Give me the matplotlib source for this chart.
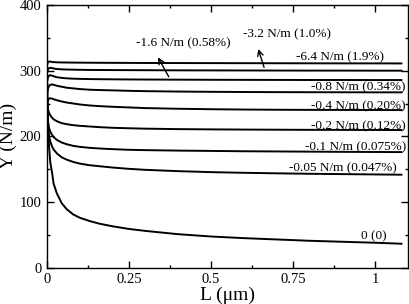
import matplotlib
matplotlib.use("Agg")
import matplotlib.pyplot as plt
from matplotlib.ticker import MultipleLocator, FuncFormatter

plt.rcParams['font.family'] = ['Liberation Serif', 'DejaVu Serif']
plt.rcParams['mathtext.fontset'] = 'stix'

# length values (um), shared by all curves
L = [0.001, 0.003, 0.006, 0.01, 0.015, 0.02, 0.03, 0.045, 0.06, 0.08, 0.1, 0.13,
     0.16, 0.2, 0.25, 0.3, 0.4, 0.5, 0.6, 0.7, 0.8, 0.9, 1.0, 1.08]

# Y (N/m) for each applied stress
y_0 = [280, 225, 185, 160, 146, 128, 113, 98, 89, 81, 76, 71,
       67, 63, 59, 56, 51, 47.5, 45, 43, 41, 39.5, 38, 36.5]
y_005 = [235, 212, 200, 192, 185, 180, 174, 168, 164.5, 161, 158.5, 156,
         154.5, 152.5, 150.5, 149, 147, 145.5, 144.5, 143.7, 143, 142.5, 142, 141.6]
y_01 = [240, 222, 213, 207, 202.5, 199, 194.5, 190.5, 188, 185.5, 184, 182.5,
        181.5, 180.5, 179.5, 179, 178.3, 177.8, 177.3, 177, 176.7, 176.4, 176.2, 176]
y_02 = [248, 241, 236, 232, 228.5, 226, 223, 220, 218.5, 217, 216, 215,
        214, 213, 212.3, 211.7, 211, 210.6, 210.3, 210.1, 209.9, 209.8, 209.7, 209.6]
y_04 = [250, 255, 257.5, 258, 257.5, 256.5, 255, 253, 251.5, 250, 248.5, 247,
        246, 245, 244, 243, 242, 241.3, 240.8, 240.5, 240.3, 240.2, 240.1, 240]
y_08 = [268, 273, 276.5, 278.5, 279, 278.5, 277, 275.5, 274, 273, 272, 271,
        270.5, 270, 269.3, 268.8, 268.2, 267.8, 267.5, 267.3, 267.2, 267.1, 267, 267]
y_16 = [285, 290, 292.5, 293, 292.5, 291.5, 290, 289, 288.3, 287.8, 287.5, 287.2,
        287, 286.8, 286.6, 286.5, 286.3, 286.1, 286, 285.9, 285.8, 285.8, 285.7, 285.7]
y_32 = [298, 302, 304, 304.3, 304, 303.3, 302.5, 302, 301.7, 301.5, 301.3, 301.1,
        301, 300.9, 300.8, 300.7, 300.5, 300.4, 300.3, 300.2, 300.1, 300.1, 300, 300]
y_64 = [310, 313, 314, 313.8, 313.3, 313, 312.7, 312.5, 312.4, 312.3, 312.2, 312.1,
        312, 311.9, 311.8, 311.7, 311.6, 311.5, 311.4, 311.3, 311.2, 311.1, 311.1, 311]

curves = [y_0, y_005, y_01, y_02, y_04, y_08, y_16, y_32, y_64]

# curve labels and where they sit (L, Y)
labels = ['0 (0)', '-0.05 N/m (0.047%)', '-0.1 N/m (0.075%)', '-0.2 N/m (0.12%)',
          '-0.4 N/m (0.20%)', '-0.8 N/m (0.34%)', '-6.4 N/m (1.9%)',
          '-1.6 N/m (0.58%)', '-3.2 N/m (1.0%)']
label_x = [0.956, 0.738, 0.785, 0.805, 0.805, 0.805, 0.758, 0.271, 0.598]
label_y = [47.8, 150.7, 184, 215.7, 246, 274.5, 321, 341.5, 355]

fig = plt.figure(figsize=(4.09, 3.04), dpi=100)
ax = fig.add_axes([0.115, 0.1194, 0.8826, 0.8642])

for yv in curves:
    ax.plot(L, yv, color='black', lw=1.4)

for t, lx, ly in zip(labels, label_x, label_y):
    ax.text(lx, ly, t, fontsize=9.5, ha='left', va='center')

# arrows from the curves up to their labels
ax.annotate('', xy=(0.334, 324), xytext=(0.375, 287),
            arrowprops=dict(arrowstyle='->', color='black', lw=1.0))
ax.annotate('', xy=(0.641, 337), xytext=(0.664, 301),
            arrowprops=dict(arrowstyle='->', color='black', lw=1.0))

ax.set_xlim(0, 1.10)
ax.set_ylim(0, 400)
ax.xaxis.set_major_locator(MultipleLocator(0.25))
ax.xaxis.set_minor_locator(MultipleLocator(0.125))
ax.yaxis.set_major_locator(MultipleLocator(100))
ax.yaxis.set_minor_locator(MultipleLocator(50))
ax.xaxis.set_major_formatter(FuncFormatter(lambda v, p: '%g' % v))
ax.tick_params(which='both', direction='in', top=True, right=True, labelsize=10.5, width=1.0)
ax.tick_params(which='major', length=5, pad=4)
ax.tick_params(which='minor', length=2.5)
for s in ax.spines.values():
    s.set_linewidth(1.0)

ax.set_xlabel('L (μm)', fontsize=14, labelpad=0)
ax.set_ylabel('Y (N/m)', fontsize=14, labelpad=2)

fig.savefig('out.png', dpi=100)
